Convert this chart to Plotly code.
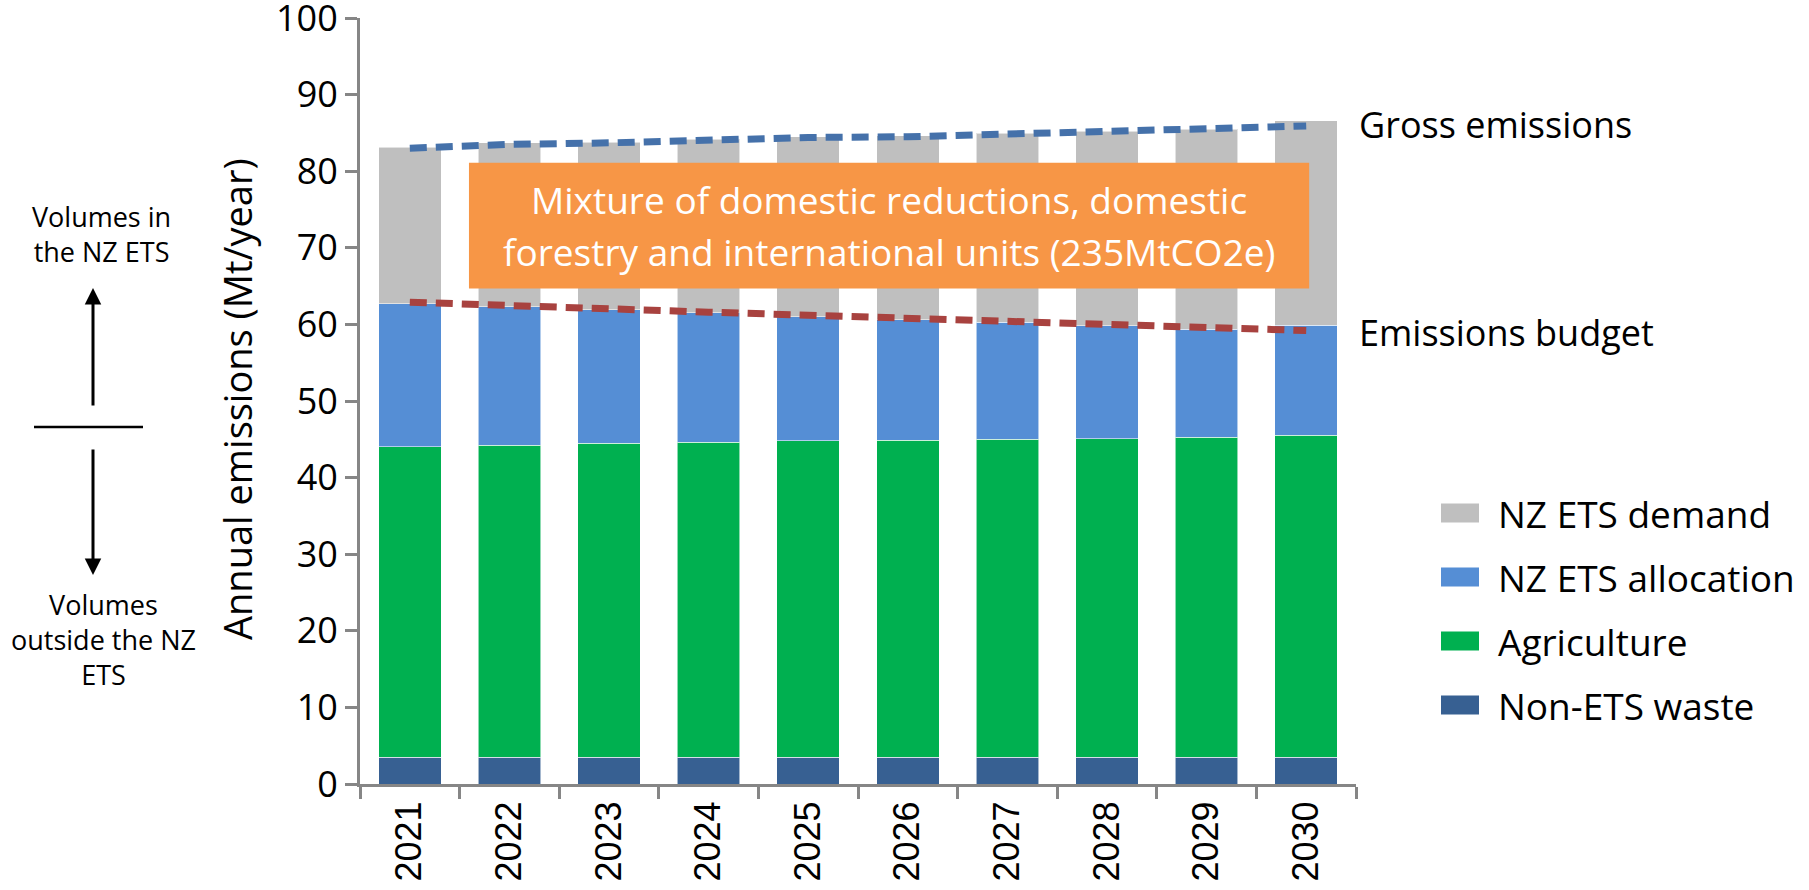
import plotly.graph_objects as go

# ---------------- data ----------------
years = ["2021", "2022", "2023", "2024", "2025", "2026", "2027", "2028", "2029", "2030"]
non_ets_waste = [3.5, 3.5, 3.5, 3.5, 3.5, 3.5, 3.5, 3.5, 3.5, 3.5]
agriculture = [40.5, 40.75, 41.0, 41.1, 41.3, 41.4, 41.5, 41.6, 41.75, 42.0]
ets_allocation = [18.7, 18.05, 17.4, 16.9, 16.2, 15.7, 15.25, 14.7, 14.15, 14.4]
ets_demand = [20.4, 21.4, 21.9, 22.7, 23.5, 24.0, 24.7, 25.4, 26.1, 26.7]
gross_emissions = [83.0, 83.5, 83.7, 84.1, 84.4, 84.5, 84.9, 85.1, 85.5, 85.9]
emissions_budget = [62.9, 62.4, 62.0, 61.6, 61.2, 60.8, 60.4, 60.1, 59.6, 59.2]
y_ticks = [0, 10, 20, 30, 40, 50, 60, 70, 80, 90, 100]

series_names = ["NZ ETS demand", "NZ ETS allocation", "Agriculture", "Non-ETS waste"]
series_colors = ["#BFBFBF", "#558ED5", "#00B050", "#376092"]

# ---------------- layout constants ----------------
W, H = 1809, 890
L, R, T, B = 360, 453, 18, 106
PW, PH = W - L - R, H - T - B

def px_x(p):
    return (p - L) / PW

def px_y(p):
    return (H - B - p) / PH

FONT = "Open Sans, Noto Sans, sans-serif"
AXIS_GREY = "#868686"

fig = go.Figure()

stack = [
    (series_names[3], non_ets_waste, series_colors[3]),
    (series_names[2], agriculture, series_colors[2]),
    (series_names[1], ets_allocation, series_colors[1]),
    (series_names[0], ets_demand, series_colors[0]),
]
for name, vals, col in stack:
    fig.add_trace(go.Bar(
        x=years, y=vals, name=name, marker_color=col,
        marker_line=dict(color="rgba(255,255,255,0.55)", width=1),
        showlegend=False,
    ))

fig.add_trace(go.Scatter(
    x=years, y=gross_emissions, mode="lines", name="Gross emissions",
    line=dict(color="#4571AA", width=7, dash="17px,9px"), showlegend=False,
))
fig.add_trace(go.Scatter(
    x=years, y=emissions_budget, mode="lines", name="Emissions budget",
    line=dict(color="#A8423F", width=7, dash="17px,9px"), showlegend=False,
))

shapes = []
annotations = []

def text_ann(x, y, text, size, xref="paper", yref="paper", xanchor="center",
             yanchor="middle", color="black", **kw):
    d = dict(xref=xref, yref=yref, x=x, y=y, text=text, showarrow=False,
             xanchor=xanchor, yanchor=yanchor,
             font=dict(family=FONT, size=size, color=color))
    d.update(kw)
    return d

# orange box
shapes.append(dict(type="rect", xref="x", yref="y", x0=0.594, x1=9.03, y0=64.7, y1=81.1,
                   fillcolor="#F79646", line=dict(width=0), layer="above"))
annotations.append(text_ann(4.81, 76.3, "Mixture of domestic reductions, domestic", 37,
                            xref="x", yref="y", color="white"))
annotations.append(text_ann(4.81, 69.5, "forestry and international units (235MtCO2e)", 37,
                            xref="x", yref="y", color="white"))

# line labels
annotations.append(text_ann(px_x(1357), gross_emissions[-1], "Gross emissions", 36,
                            yref="y", xanchor="left", yshift=2))
annotations.append(text_ann(px_x(1357), emissions_budget[-1], "Emissions budget", 36,
                            yref="y", xanchor="left", yshift=-2))

# y-axis title
annotations.append(text_ann(px_x(237), px_y(399), "Annual emissions (Mt/year)", 38,
                            textangle=-90))

# left side explanation
annotations.append(text_ann(px_x(101), px_y(234), "Volumes in<br>the NZ ETS", 27))
annotations.append(text_ann(px_x(103), px_y(639), "Volumes<br>outside the NZ<br>ETS", 27))
shapes.append(dict(type="line", xref="paper", yref="paper", x0=px_x(34), x1=px_x(143),
                   y0=px_y(427), y1=px_y(427), line=dict(color="black", width=2.5)))
annotations.append(dict(xref="paper", yref="paper", x=px_x(93), y=px_y(288), ax=0, ay=119,
                        axref="pixel", ayref="pixel", text="", showarrow=True,
                        arrowhead=2, arrowsize=1.1, arrowwidth=3, arrowcolor="black"))
annotations.append(dict(xref="paper", yref="paper", x=px_x(93), y=px_y(575), ax=0, ay=-127,
                        axref="pixel", ayref="pixel", text="", showarrow=True,
                        arrowhead=2, arrowsize=1.1, arrowwidth=3, arrowcolor="black"))

# custom legend
for i, (name, col) in enumerate(zip(series_names, series_colors)):
    cy = 513 + i * 64
    shapes.append(dict(type="rect", xref="paper", yref="paper", x0=px_x(1441), x1=px_x(1479),
                       y0=px_y(cy + 9.5), y1=px_y(cy - 9.5), fillcolor=col, line=dict(width=0)))
    annotations.append(text_ann(px_x(1496), px_y(cy), name, 37, xanchor="left"))

fig.update_layout(
    width=W, height=H, autosize=False,
    margin=dict(l=L, r=R, t=T, b=B, pad=0, autoexpand=False),
    barmode="stack", bargap=0.373,
    plot_bgcolor="white", paper_bgcolor="white",
    shapes=shapes, annotations=annotations,
    showlegend=False,
)
fig.update_xaxes(
    type="category", range=[-0.5, 9.5], tickangle=-90, automargin=False,
    showline=True, linecolor=AXIS_GREY, linewidth=3,
    ticks="outside", tickson="boundaries", ticklen=12, tickwidth=2.5, tickcolor=AXIS_GREY,
    showgrid=False, zeroline=False,
    tickfont=dict(family="Liberation Sans, Arial, sans-serif", size=36, color="black"),
)
fig.update_yaxes(
    range=[0, 100], tickvals=y_ticks, ticklabeloverflow="allow", automargin=False,
    showline=True, linecolor=AXIS_GREY, linewidth=3,
    ticks="outside", ticklen=12, tickwidth=2.5, tickcolor=AXIS_GREY,
    showgrid=False, zeroline=False,
    tickfont=dict(family=FONT, size=36, color="black"),
)

fig.write_html(
    "out.html",
    config={"displayModeBar": False},
    post_script="document.body.style.margin='0';document.body.style.overflow='hidden';",
)
